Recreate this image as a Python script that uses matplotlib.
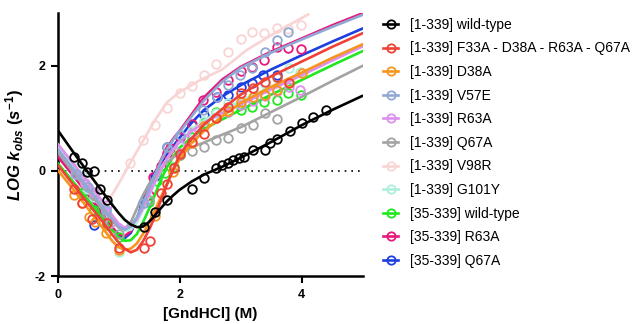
import numpy as np
import matplotlib
matplotlib.use("Agg")
import matplotlib.pyplot as plt

plt.rcParams['font.family'] = ['Liberation Sans', 'DejaVu Sans']
plt.rcParams['mathtext.fontset'] = 'custom'
plt.rcParams['mathtext.it'] = 'Liberation Sans:italic:bold'
plt.rcParams['mathtext.rm'] = 'Liberation Sans:bold'
plt.rcParams['mathtext.bf'] = 'Liberation Sans:bold'

# series names and colours (legend order)
labels = ["[1-339] wild-type", "[1-339] F33A - D38A - R63A - Q67A", "[1-339] D38A",
          "[1-339] V57E", "[1-339] R63A", "[1-339] Q67A", "[1-339] V98R",
          "[1-339] G101Y", "[35-339] wild-type", "[35-339] R63A", "[35-339] Q67A"]
colors = ["#000000", "#ef4136", "#f7941d", "#8fa9d4", "#dd8fee", "#a3a3a3",
          "#f9d4d4", "#aeeedc", "#1fe81f", "#e8187a", "#1c3fe0"]

# fitted curves
fit_x = [0, 0.25, 0.5, 0.75, 0.9, 1.0, 1.1, 1.2, 1.3, 1.4, 1.5, 1.6, 1.7, 1.8, 1.9,
         2.0, 2.2, 2.4, 2.7, 3.0, 3.5, 4.0, 4.5, 5.0]
fit_wt = [0.78, 0.37, -0.03, -0.42, -0.65, -0.80, -0.93, -1.02, -1.07, -1.06, -0.97,
          -0.84, -0.70, -0.57, -0.46, -0.36, -0.20, -0.07, 0.08, 0.25, 0.55, 0.87, 1.16, 1.43]
fit_f33a = [0.12, -0.25, -0.62, -0.98, -1.22, -1.36, -1.48, -1.55, -1.50, -1.34, -1.12,
            -0.86, -0.54, -0.24, 0.04, 0.30, 0.62, 0.88, 1.18, 1.45, 1.80, 2.08, 2.36, 2.62]
fit_d38a = [0.02, -0.34, -0.72, -1.10, -1.34, -1.45, -1.50, -1.48, -1.38, -1.20, -0.98,
            -0.74, -0.48, -0.22, 0.02, 0.22, 0.53, 0.76, 1.04, 1.29, 1.60, 1.87, 2.15, 2.41]
fit_v57e = [0.42, 0.05, -0.32, -0.70, -0.93, -1.06, -1.12, -1.06, -0.88, -0.62, -0.34,
            -0.06, 0.20, 0.42, 0.60, 0.74, 1.04, 1.34, 1.70, 1.96, 2.25, 2.50, 2.74, 2.97]
fit_r63a = [0.52, 0.15, -0.22, -0.60, -0.85, -1.00, -1.08, -1.06, -0.92, -0.70, -0.45,
            -0.20, 0.04, 0.25, 0.42, 0.55, 0.76, 0.92, 1.10, 1.26, 1.55, 1.82, 2.10, 2.37]
fit_q67a = [0.36, -0.02, -0.38, -0.75, -0.96, -1.08, -1.10, -0.98, -0.72, -0.46, -0.25,
            -0.08, 0.06, 0.17, 0.26, 0.34, 0.45, 0.54, 0.69, 0.83, 1.12, 1.41, 1.71, 2.00]
fit_g101y = [0.45, 0.08, -0.30, -0.68, -0.92, -1.06, -1.14, -1.12, -0.98, -0.75, -0.48,
             -0.22, 0.02, 0.24, 0.41, 0.55, 0.78, 0.96, 1.16, 1.33, 1.60, 1.86, 2.12, 2.39]
fit_s_wt = [0.15, -0.20, -0.55, -0.92, -1.13, -1.26, -1.33, -1.32, -1.20, -0.98, -0.72,
            -0.44, -0.15, 0.08, 0.28, 0.44, 0.64, 0.80, 0.98, 1.16, 1.45, 1.73, 2.01, 2.28]
fit_s_r63a = [0.28, -0.08, -0.45, -0.85, -1.08, -1.20, -1.24, -1.15, -0.93, -0.64, -0.34,
              -0.05, 0.22, 0.45, 0.62, 0.76, 1.08, 1.40, 1.74, 1.98, 2.27, 2.52, 2.77, 3.00]
fit_s_q67a = [0.30, -0.06, -0.43, -0.85, -1.10, -1.24, -1.28, -1.18, -0.92, -0.55, -0.28,
              -0.02, 0.16, 0.32, 0.48, 0.63, 0.92, 1.16, 1.42, 1.63, 1.93, 2.20, 2.46, 2.71]
# V98R curve has its own range
fit_x_v98r = [0, 0.25, 0.5, 0.65, 0.75, 0.86, 1.0, 1.19, 1.41, 1.6, 1.79, 2.0, 2.34,
              2.7, 3.1, 3.6, 4.11]
fit_v98r = [0.40, 0.00, -0.40, -0.60, -0.65, -0.52, -0.25, 0.15, 0.59, 0.97, 1.30,
            1.50, 1.73, 1.93, 2.30, 2.65, 2.98]

# measured points
pts_wt_x = [0.27, 0.40, 0.49, 0.60, 0.70, 0.81, 1.41, 1.59, 1.79, 2.20, 2.40, 2.60, 2.69,
            2.80, 2.88, 2.98, 3.06, 3.21, 3.40, 3.48, 3.59, 3.81, 4.00, 4.19, 4.40]
pts_wt_y = [0.27, 0.15, -0.03, 0.00, -0.35, -0.55, -1.06, -0.79, -0.55, -0.35, -0.14, 0.05,
            0.12, 0.15, 0.21, 0.24, 0.27, 0.40, 0.40, 0.53, 0.60, 0.75, 0.91, 1.02, 1.15]
pts_f33a_x = [0.27, 0.40, 0.56, 0.81, 1.00, 1.41, 1.51, 1.70, 1.80, 1.90, 2.00, 2.20,
              2.40, 2.60, 2.80, 3.00, 3.20, 3.40, 3.60, 3.80]
pts_f33a_y = [-0.35, -0.62, -0.92, -1.00, -1.47, -1.47, -1.34, -0.42, -0.25, 0.05, 0.33,
              0.55, 0.70, 1.00, 1.22, 1.48, 1.57, 1.70, 1.79, 1.68]
pts_d38a_x = [0.27, 0.40, 0.51, 0.61, 0.80, 1.00, 1.60, 1.89, 2.20, 2.40, 2.60, 2.80,
              3.00, 3.20, 3.40, 3.60, 3.80, 4.00]
pts_d38a_y = [-0.45, -0.62, -0.87, -0.98, -1.18, -1.50, -0.85, -0.03, 0.53, 0.86, 1.00,
              1.14, 1.31, 1.40, 1.45, 1.54, 1.70, 1.86]
pts_v57e_x = [0.30, 0.50, 0.80, 1.41, 1.80, 2.00, 2.39, 2.61, 2.80, 2.99, 3.18, 3.40,
              3.59, 3.78]
pts_v57e_y = [-0.05, -0.30, -0.75, -0.62, 0.45, 0.68, 1.16, 1.41, 1.63, 1.83, 1.95, 2.27,
              2.49, 2.65]
pts_r63a_x = [0.29, 0.45, 0.60, 0.81, 0.86, 2.00, 2.20, 2.40, 2.60, 2.80, 3.00, 3.20,
              3.40, 3.60, 3.80, 3.98]
pts_r63a_y = [-0.05, -0.23, -0.40, -0.65, -1.00, 0.50, 0.70, 0.85, 1.00, 1.12, 1.25,
              1.33, 1.43, 1.52, 1.60, 1.54]
pts_q67a_x = [0.30, 0.45, 0.60, 0.80, 1.00, 1.50, 2.00, 2.20, 2.40, 2.60, 2.80, 3.00,
              3.21, 3.40, 3.59]
pts_q67a_y = [-0.05, -0.25, -0.45, -0.80, -1.20, -0.55, 0.30, 0.37, 0.46, 0.59, 0.63,
              0.81, 0.87, 1.10, 0.99]
pts_v98r_x = [1.19, 1.40, 1.60, 1.79, 2.00, 2.20, 2.40, 2.60, 2.80, 3.00, 3.19, 3.39,
              3.59, 3.78, 3.99]
pts_v98r_y = [0.15, 0.59, 0.87, 1.19, 1.48, 1.62, 1.83, 2.03, 2.27, 2.51, 2.65, 2.63,
              2.71, 2.70, 2.78]
pts_g101y_x = [0.30, 0.40, 0.50, 0.60, 0.80, 1.00, 2.00, 2.20, 2.40, 2.60, 2.80, 3.00,
               3.20, 3.40, 3.59, 3.80, 3.98]
pts_g101y_y = [0.05, -0.10, -0.35, -0.50, -0.75, -1.55, 0.45, 0.75, 0.95, 1.10, 1.30,
               1.40, 1.55, 1.65, 1.76, 1.95, 1.89]
pts_s_wt_x = [0.40, 0.60, 0.81, 1.00, 1.50, 1.63, 1.76, 1.90, 2.00, 2.20, 2.40, 2.60,
              2.80, 3.00, 3.19, 3.39, 3.59, 3.78, 3.99]
pts_s_wt_y = [-0.42, -0.75, -1.02, -1.25, -0.60, -0.20, -0.04, 0.08, 0.30, 0.65, 0.91,
              1.13, 1.13, 1.15, 1.22, 1.32, 1.35, 1.48, 1.44]
pts_s_r63a_x = [1.50, 1.57, 1.70, 1.79, 1.84, 2.00, 2.20, 2.39, 2.60, 2.80, 3.00, 3.19,
                3.39, 3.59, 3.78, 3.99]
pts_s_r63a_y = [-0.45, -0.11, 0.10, 0.34, 0.43, 0.65, 0.90, 1.35, 1.50, 1.73, 1.90, 1.98,
                2.11, 2.36, 2.33, 2.31]
pts_s_q67a_x = [0.40, 0.60, 1.40, 1.60, 1.79, 2.00, 2.20, 2.40, 2.61, 2.80, 3.00, 3.18,
                3.37, 3.59]
pts_s_q67a_y = [-0.42, -1.03, -0.62, -0.10, 0.45, 0.64, 0.88, 1.06, 1.41, 1.44, 1.60,
                1.67, 1.83, 1.82]

fits = [(fit_x, fit_wt), (fit_x, fit_f33a), (fit_x, fit_d38a), (fit_x, fit_v57e),
        (fit_x, fit_r63a), (fit_x, fit_q67a), (fit_x_v98r, fit_v98r), (fit_x, fit_g101y),
        (fit_x, fit_s_wt), (fit_x, fit_s_r63a), (fit_x, fit_s_q67a)]
points = [(pts_wt_x, pts_wt_y), (pts_f33a_x, pts_f33a_y), (pts_d38a_x, pts_d38a_y),
          (pts_v57e_x, pts_v57e_y), (pts_r63a_x, pts_r63a_y), (pts_q67a_x, pts_q67a_y),
          (pts_v98r_x, pts_v98r_y), (pts_g101y_x, pts_g101y_y), (pts_s_wt_x, pts_s_wt_y),
          (pts_s_r63a_x, pts_s_r63a_y), (pts_s_q67a_x, pts_s_q67a_y)]

fig = plt.figure(figsize=(6.42, 3.24), dpi=100)
ax = fig.add_axes([0.0896, 0.1481, 0.4754, 0.8111])

n = len(labels)
for i in reversed(range(n)):
    z = 3 + (n - i) * 0.1
    ax.plot(fits[i][0], fits[i][1], color=colors[i], lw=1.9, zorder=z,
            solid_capstyle='round', solid_joinstyle='round')
    ax.plot(points[i][0], points[i][1], 'o', mfc='none', mec=colors[i], ms=6.2,
            mew=1.3, zorder=z)

ax.axhline(0, color='black', lw=1.2, ls=(0, (1, 3)), zorder=2)

ax.set_xlim(0, 5)
ax.set_ylim(-2, 3)
ax.set_xticks([0, 2, 4])
ax.set_yticks([-2, 0, 2])
ax.set_yticklabels(['-2', '0', '2'])
for lab in ax.get_xticklabels() + ax.get_yticklabels():
    lab.set_fontweight('bold')
    lab.set_fontsize(9)
ax.spines['top'].set_visible(False)
ax.spines['right'].set_visible(False)
ax.spines['left'].set_linewidth(1.8)
ax.spines['bottom'].set_linewidth(1.8)
ax.tick_params(width=1.5, length=5, pad=4)

ax.set_xlabel('[GndHCl] (M)', fontsize=11, fontweight='bold', labelpad=5)
ax.set_ylabel(r'$LOG\ k_{obs}\ (s^{-1})$', fontsize=12, labelpad=6)

# legend proxies
handles = [plt.Line2D([], [], color=c, lw=1.9, marker='o', mfc='none', mec=c, ms=6,
                      mew=1.3) for c in colors]
fig.legend(handles, labels, loc='upper left', bbox_to_anchor=(0.588, 0.962),
           frameon=False, fontsize=10, handlelength=1.1, handletextpad=0.85,
           labelspacing=0.69, borderaxespad=0)

fig.savefig('out.png', dpi=100)
